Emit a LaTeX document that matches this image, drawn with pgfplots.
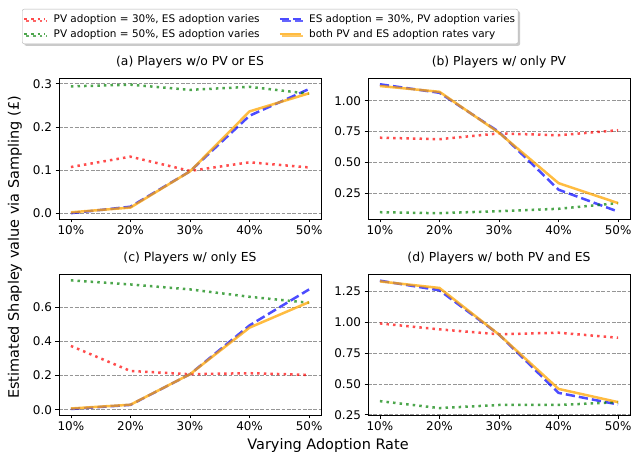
\documentclass[border=0pt]{standalone}
\usepackage{pgfplots}
\pgfplotsset{compat=1.18}
\usepackage{fontspec}
\setmainfont{DejaVu Sans}
\usetikzlibrary{shadows}

\definecolor{gridgray}{RGB}{150,150,150}
\definecolor{mred}{RGB}{255,0,0}
\definecolor{mgreen}{RGB}{0,128,0}
\definecolor{mblue}{RGB}{0,0,255}
\definecolor{morange}{RGB}{255,165,0}

% one table per panel: x, PV=30% (red), PV=50% (green), ES=30% (blue), both vary (orange)
\pgfplotstableread{
x red green blue orange
10 0.107 0.294 0.000 0.002
20 0.131 0.298 0.015 0.013
30 0.098 0.286 0.097 0.097
40 0.118 0.293 0.226 0.236
50 0.106 0.277 0.288 0.278
}\dataA
\pgfplotstableread{
x red green blue orange
10 0.700 0.095 1.134 1.120
20 0.688 0.087 1.065 1.073
30 0.735 0.104 0.747 0.740
40 0.720 0.123 0.278 0.331
50 0.761 0.169 0.100 0.169
}\dataB
\pgfplotstableread{
x red green blue orange
10 0.373 0.756 0.005 0.008
20 0.227 0.732 0.029 0.030
30 0.208 0.703 0.208 0.208
40 0.214 0.660 0.493 0.480
50 0.204 0.625 0.703 0.629
}\dataC
\pgfplotstableread{
x red green blue orange
10 0.990 0.361 1.336 1.330
20 0.942 0.305 1.258 1.277
30 0.902 0.330 0.900 0.900
40 0.915 0.330 0.428 0.460
50 0.874 0.353 0.334 0.353
}\dataD

\pgfplotsset{
  panel/.style={
    at={#1}, anchor=south west,
    scale only axis, width=262bp, height=141bp,
    xmin=8, xmax=52,
    xtick={10,20,30,40,50},
    xticklabels={10\%,20\%,30\%,40\%,50\%},
    ymajorgrids,
    grid style={gridgray, line width=0.8bp, dash pattern=on 3.7bp off 1.6bp},
    tick align=outside, xtick pos=bottom, ytick pos=left,
    major tick length=3.5bp,
    every tick/.style={black, line width=0.8bp},
    axis line style={line width=0.8bp},
    tick label style={font=\fontsize{12}{14}\selectfont},
    yticklabel style={/pgf/number format/fixed, /pgf/number format/fixed zerofill},
    scaled y ticks=false,
    /pgf/number format/assume math mode=true,
    title style={font=\fontsize{12.4}{14}\selectfont, at={(0.5,1)}, anchor=base, yshift=6.5bp},
    legend image code/.code={\draw[##1] (0bp,0bp) -- (21bp,0bp);},
  },
  sred/.style={mred, opacity=0.7, line width=2.5bp, line cap=butt, dash pattern=on 2.5bp off 4.1bp},
  sgreen/.style={mgreen, opacity=0.7, line width=2.5bp, line cap=butt, dash pattern=on 2.5bp off 4.1bp},
  sblue/.style={mblue, opacity=0.7, line width=2.5bp, dash pattern=on 9.25bp off 4bp},
  sorange/.style={morange, opacity=0.75, line width=2.5bp},
}

\begin{document}
\begin{tikzpicture}
\useasboundingbox (0,0) rectangle (633bp,455bp);

\begin{axis}[panel={(59bp,236bp)},
  ymin=-0.0135, ymax=0.3135, ytick={0,0.1,0.2,0.3},
  yticklabel style={/pgf/number format/precision=1},
  title={(a) Players w/o PV or ES},
  legend columns=2,
  legend cell align=left,
  legend style={at={(-0.1412,1.4894)}, anchor=north west,
    font=\fontsize{10.5}{12.5}\selectfont,
    nodes={inner sep=2bp},
    draw=gray!60, rounded corners=2bp, fill=white,
    drop shadow={shadow xshift=2bp, shadow yshift=-2bp, fill=gray!70, opacity=0.6},
    inner xsep=1bp, inner ysep=3bp,
    row sep=1.7bp,
    /tikz/every odd column/.append style={column sep=5bp},
    /tikz/every even column/.append style={column sep=17bp}},
]
\addplot[sred] table[x=x, y=red] {\dataA};
\addplot[sblue] table[x=x, y=blue] {\dataA};
\addplot[sgreen] table[x=x, y=green] {\dataA};
\addplot[sorange] table[x=x, y=orange] {\dataA};
\legend{PV adoption = 30\%{,} ES adoption varies,
        ES adoption = 30\%{,} PV adoption varies,
        PV adoption = 50\%{,} ES adoption varies,
        both PV and ES adoption rates vary}
\end{axis}

\begin{axis}[panel={(368bp,236bp)},
  ymin=0.04, ymax=1.185, ytick={0.25,0.5,0.75,1},
  yticklabel style={/pgf/number format/precision=2},
  title={(b) Players w/ only PV},
]
\addplot[sred] table[x=x, y=red] {\dataB};
\addplot[sblue] table[x=x, y=blue] {\dataB};
\addplot[sgreen] table[x=x, y=green] {\dataB};
\addplot[sorange] table[x=x, y=orange] {\dataB};
\end{axis}

\begin{axis}[panel={(59bp,40bp)},
  ymin=-0.03, ymax=0.793, ytick={0,0.2,0.4,0.6},
  yticklabel style={/pgf/number format/precision=1},
  title={(c) Players w/ only ES},
]
\addplot[sred] table[x=x, y=red] {\dataC};
\addplot[sblue] table[x=x, y=blue] {\dataC};
\addplot[sgreen] table[x=x, y=green] {\dataC};
\addplot[sorange] table[x=x, y=orange] {\dataC};
\end{axis}

\begin{axis}[panel={(368bp,40bp)},
  ymin=0.249, ymax=1.39, ytick={0.25,0.5,0.75,1,1.25},
  yticklabel style={/pgf/number format/precision=2},
  title={(d) Players w/ both PV and ES},
]
\addplot[sred] table[x=x, y=red] {\dataD};
\addplot[sblue] table[x=x, y=blue] {\dataD};
\addplot[sgreen] table[x=x, y=green] {\dataD};
\addplot[sorange] table[x=x, y=orange] {\dataD};
\end{axis}

\node[rotate=90, font=\fontsize{14.5}{17}\selectfont] at (15bp,207.5bp) {Estimated Shapley value via Sampling (£)};
\node[font=\fontsize{14.5}{17}\selectfont] at (328bp,9bp) {Varying Adoption Rate};
\end{tikzpicture}
\end{document}
